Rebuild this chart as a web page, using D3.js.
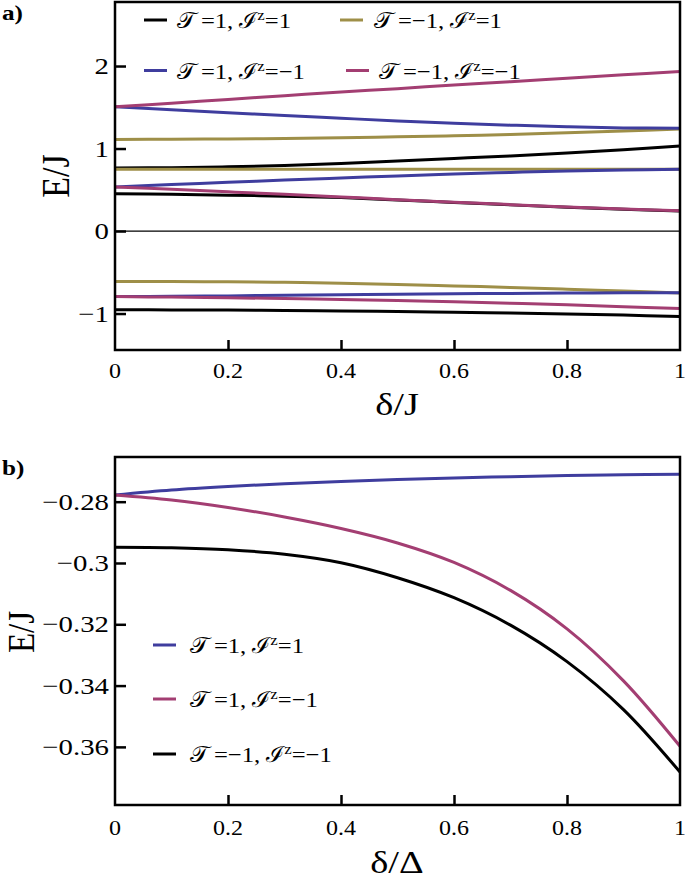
<!DOCTYPE html>
<html><head><meta charset="utf-8">
<script src="https://cdn.jsdelivr.net/npm/d3@7"></script>
<style>
html,body{margin:0;padding:0;background:#fff;}
svg{display:block;}
text{font-family:"Liberation Serif","Times New Roman","DejaVu Serif",serif;fill:#000;}
</style></head>
<body>
<svg id="chart" width="685" height="884"></svg>
<script>
// ---------- DATA ----------
const deltaA = [0,0.1,0.2,0.3,0.4,0.5,0.6,0.7,0.8,0.9,1.0];
// panel a series
const blackUpper = [0.765,0.768,0.778,0.795,0.82,0.85,0.88,0.91,0.945,0.985,1.03];
const blackMid   = [0.452,0.445,0.435,0.423,0.405,0.377,0.347,0.317,0.289,0.264,0.242];
const blackLow   = [-0.955,-0.956,-0.958,-0.962,-0.968,-0.975,-0.984,-0.994,-1.005,-1.019,-1.035];
const oliveTop   = [1.11,1.112,1.116,1.122,1.13,1.142,1.155,1.17,1.19,1.212,1.238];
const oliveMid   = [0.748,0.748,0.748,0.748,0.748,0.749,0.749,0.749,0.749,0.749,0.749];
const oliveLow   = [-0.612,-0.613,-0.616,-0.622,-0.632,-0.647,-0.665,-0.684,-0.705,-0.727,-0.75];
const blueTop    = [1.505,1.47,1.435,1.40,1.367,1.335,1.306,1.283,1.263,1.25,1.245];
const blueMid    = [0.535,0.565,0.59,0.618,0.643,0.668,0.69,0.71,0.728,0.74,0.748];
const blueLow    = [-0.795,-0.791,-0.786,-0.779,-0.772,-0.766,-0.761,-0.756,-0.752,-0.749,-0.748];
const pinkTop    = [1.505,1.55,1.595,1.64,1.685,1.725,1.77,1.81,1.852,1.893,1.935];
const pinkMid    = [0.535,0.505,0.475,0.445,0.413,0.38,0.35,0.32,0.292,0.267,0.245];
const pinkLow    = [-0.795,-0.801,-0.809,-0.818,-0.829,-0.842,-0.857,-0.875,-0.895,-0.917,-0.94];

// panel b series
const deltaB = [0,0.1,0.2,0.3,0.4,0.5,0.6,0.7,0.8,0.9,1.0];
const bBlue  = [-0.27782,-0.27619,-0.27504,-0.27413,-0.27341,-0.27280,-0.27227,-0.27185,-0.27149,-0.27123,-0.27107];
const bPink  = [-0.27782,-0.27945,-0.28189,-0.28499,-0.28874,-0.29346,-0.29982,-0.30895,-0.32150,-0.33845,-0.35980];
const bBlack = [-0.29487,-0.29503,-0.29568,-0.29715,-0.29992,-0.30481,-0.31133,-0.32029,-0.33219,-0.34784,-0.36822];

const xTickVals   = [0,0.2,0.4,0.6,0.8,1];
const xTickLabels = ["0","0.2","0.4","0.6","0.8","1"];
const yTickValsA   = [-1,0,1,2];
const yTickLabelsA = ["\u22121","0","1","2"];
const yTickValsB   = [-0.36,-0.34,-0.32,-0.3,-0.28];
const yTickLabelsB = ["\u22120.36","\u22120.34","\u22120.32","\u22120.3","\u22120.28"];

const legendA = [
  {T:"1",  I:"1",  color:"#000000"},
  {T:"\u22121", I:"1",  color:"#9e8f48"},
  {T:"1",  I:"\u22121", color:"#3f3d9e"},
  {T:"\u22121", I:"\u22121", color:"#a33e72"}
];
const legendB = [
  {T:"1",  I:"1",  color:"#3f3d9e"},
  {T:"1",  I:"\u22121", color:"#a33e72"},
  {T:"\u22121", I:"\u22121", color:"#000000"}
];

// ---------- DRAW ----------
const SX = 1.2; // horizontal text stretch
const svg = d3.select("#chart");

function addText(parent, x, y, str, size, anchor, weight){
  const g = parent.append("g").attr("transform", `translate(${x},${y}) scale(${SX},1)`);
  g.append("text").attr("x",0).attr("y",0)
    .attr("font-size", size).attr("text-anchor", anchor||"start")
    .attr("font-weight", weight||"normal").text(str);
  return g;
}

function legendText(parent, x, y, T, I, size){
  const g = parent.append("g").attr("transform", `translate(${x},${y}) scale(1.12,1)`);
  const t = g.append("text").attr("font-size", size);
  t.append("tspan").text("\uD835\uDCAF");
  t.append("tspan").text("\u2009=" + T + ", ");
  t.append("tspan").text("\u2110");
  t.append("tspan").attr("dy", -8).attr("font-size", size*0.68).text("z");
  t.append("tspan").attr("dy", 8).text("=" + I);
}

const x = d3.scaleLinear().domain([0,1]).range([115,680]);
const yA = d3.scaleLinear().domain([-1.442, 2.776]).range([350, 2]);
const yB = d3.scaleLinear().domain([-0.37896, -0.26542]).range([805, 457]);

const line = (xs, ys, yS) => d3.line().curve(d3.curveCatmullRom.alpha(0.5))
  .x((d,i)=>x(xs[i])).y(d=>yS(d))(ys);

// ----- Panel a -----
const gA = svg.append("g");
gA.append("line").attr("x1",x(0)).attr("x2",x(1)).attr("y1",yA(0)).attr("y2",yA(0))
  .attr("stroke","#000").attr("stroke-width",1.2);

const seriesA = [
  {d:blackUpper,c:legendA[0].color},{d:blackMid,c:legendA[0].color},{d:blackLow,c:legendA[0].color},
  {d:oliveTop,c:legendA[1].color},{d:oliveMid,c:legendA[1].color},{d:oliveLow,c:legendA[1].color},
  {d:blueTop,c:legendA[2].color},{d:blueMid,c:legendA[2].color},{d:blueLow,c:legendA[2].color},
  {d:pinkTop,c:legendA[3].color},{d:pinkMid,c:legendA[3].color},{d:pinkLow,c:legendA[3].color}
];
seriesA.forEach(s=>{
  gA.append("path").attr("d", line(deltaA, s.d, yA)).attr("fill","none")
    .attr("stroke", s.c).attr("stroke-width",3);
});

gA.append("rect").attr("x",115).attr("y",2).attr("width",565).attr("height",348)
  .attr("fill","none").attr("stroke","#000").attr("stroke-width",2.5);

const axLA = d3.axisLeft(yA).tickValues(yTickValsA).tickSizeInner(-11).tickSizeOuter(0).tickFormat("");
gA.append("g").attr("transform","translate(115,0)").call(axLA)
  .call(g=>g.select(".domain").remove())
  .call(g=>g.selectAll(".tick line").attr("stroke-width",2.5));
const axBA = d3.axisBottom(x).tickValues(xTickVals.slice(1,-1)).tickSizeInner(-10).tickSizeOuter(0).tickFormat("");
gA.append("g").attr("transform","translate(0,350)").call(axBA)
  .call(g=>g.select(".domain").remove())
  .call(g=>g.selectAll(".tick line").attr("stroke-width",2.5));

yTickValsA.forEach((v,i)=> addText(gA, 109, yA(v)+8, yTickLabelsA[i], 24, "end"));
xTickVals.forEach((v,i)=> addText(gA, x(v), 378, xTickLabels[i], 20, "middle"));

addText(gA, 397, 415, "\u03B4/J", 32, "middle");
gA.append("g").attr("transform","translate(69,176) rotate(-90) scale(1,1.2)")
  .append("text").attr("font-size",34).attr("text-anchor","middle").text("E/J");
addText(gA, 2, 20, "a)", 21, "start", "bold");

const legPosA = [
  {lx:144, ly:20, tx:177},
  {lx:340, ly:20, tx:374},
  {lx:144, ly:70.5, tx:177},
  {lx:346, ly:70.5, tx:379}
];
legendA.forEach((L,i)=>{
  const p = legPosA[i];
  gA.append("line").attr("x1",p.lx).attr("x2",p.lx+23).attr("y1",p.ly).attr("y2",p.ly)
    .attr("stroke",L.color).attr("stroke-width",3);
  legendText(gA, p.tx, p.ly+8, L.T, L.I, 22);
});

// ----- Panel b -----
const gB = svg.append("g");
const seriesB = [
  {d:bBlue,c:legendB[0].color},{d:bPink,c:legendB[1].color},{d:bBlack,c:legendB[2].color}
];
seriesB.forEach(s=>{
  gB.append("path").attr("d", line(deltaB, s.d, yB)).attr("fill","none")
    .attr("stroke", s.c).attr("stroke-width",3);
});
gB.append("rect").attr("x",115).attr("y",457).attr("width",565).attr("height",348)
  .attr("fill","none").attr("stroke","#000").attr("stroke-width",2.5);

const axLB = d3.axisLeft(yB).tickValues(yTickValsB).tickSizeInner(-11).tickSizeOuter(0).tickFormat("");
gB.append("g").attr("transform","translate(115,0)").call(axLB)
  .call(g=>g.select(".domain").remove())
  .call(g=>g.selectAll(".tick line").attr("stroke-width",2.5));
const axBB = d3.axisBottom(x).tickValues(xTickVals.slice(1,-1)).tickSizeInner(-10).tickSizeOuter(0).tickFormat("");
gB.append("g").attr("transform","translate(0,805)").call(axBB)
  .call(g=>g.select(".domain").remove())
  .call(g=>g.selectAll(".tick line").attr("stroke-width",2.5));

yTickValsB.forEach((v,i)=> addText(gB, 109, yB(v)+8, yTickLabelsB[i], 24, "end"));
xTickVals.forEach((v,i)=> addText(gB, x(v), 835, xTickLabels[i], 20, "middle"));

addText(gB, 397, 873, "\u03B4/\u0394", 32, "middle");
gB.append("g").attr("transform","translate(34,632) rotate(-90) scale(1,1.15)")
  .append("text").attr("font-size",33).attr("text-anchor","middle").text("E/J");
addText(gB, 2, 475, "b)", 21, "start", "bold");

const legYB = [645, 699, 754];
legendB.forEach((L,i)=>{
  gB.append("line").attr("x1",153).attr("x2",176).attr("y1",legYB[i]).attr("y2",legYB[i])
    .attr("stroke",L.color).attr("stroke-width",3);
  legendText(gB, 190, legYB[i]+8, L.T, L.I, 22);
});
</script>
</body></html>
